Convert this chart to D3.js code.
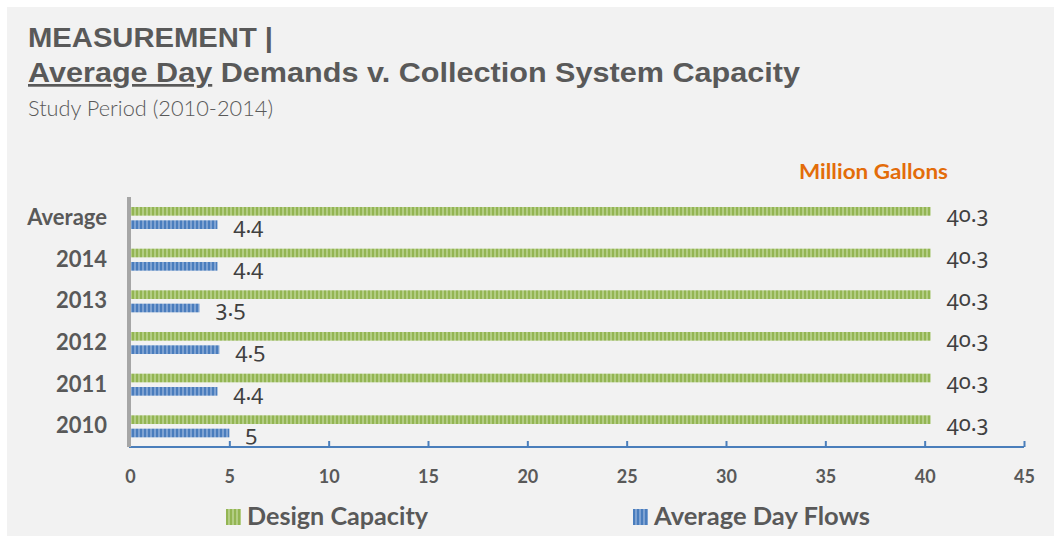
<!DOCTYPE html>
<html>
<head>
<meta charset="utf-8">
<script src="https://cdn.jsdelivr.net/npm/d3@7"></script>
<style>
  html, body { margin: 0; padding: 0; background: #ffffff; }
  svg { display: block; }
  .num { font-family: "Noto Sans", sans-serif; font-feature-settings: "onum" 1; font-variant-numeric: oldstyle-nums; }
</style>
</head>
<body>
<svg id="chart" width="1054" height="536"></svg>
<script>
// Demand vs. capacity, million gallons per day
const categories = ["Average", "2014", "2013", "2012", "2011", "2010"];
const designCapacity = [40.3, 40.3, 40.3, 40.3, 40.3, 40.3];
const averageDayFlows = [4.4, 4.4, 3.5, 4.5, 4.4, 5];
const seriesNames = ["Design Capacity", "Average Day Flows"];
const xTicks = [0, 5, 10, 15, 20, 25, 30, 35, 40, 45];

const W = 1054, H = 536;
const svg = d3.select("#chart");
const textGray = "#595959";

// stripe fills for the two series
const defs = svg.append("defs");
function stripes(id, light, dark) {
  const p = defs.append("pattern")
    .attr("id", id).attr("patternUnits", "userSpaceOnUse")
    .attr("width", 4).attr("height", 4);
  p.append("rect").attr("width", 4).attr("height", 4).attr("fill", light);
  p.append("rect").attr("width", 2).attr("height", 4).attr("fill", dark);
}
stripes("greenStripe", "#b3cd84", "#93b553");
stripes("blueStripe", "#7ea2d2", "#4a7dbd");
const fills = ["url(#greenStripe)", "url(#blueStripe)"];

// panel background
svg.append("rect").attr("x", 7).attr("y", 7)
  .attr("width", W - 7).attr("height", H - 7).attr("fill", "#f2f2f2");

// titles
svg.append("text")
  .attr("x", 28).attr("y", 47)
  .attr("textLength", 245).attr("lengthAdjust", "spacingAndGlyphs")
  .style("font-family", "'Liberation Sans', Arial, sans-serif")
  .style("font-weight", "bold").style("font-size", "27px")
  .attr("fill", textGray)
  .text("MEASUREMENT |");

const t2 = svg.append("text")
  .attr("x", 28).attr("y", 82)
  .attr("textLength", 772).attr("lengthAdjust", "spacingAndGlyphs")
  .style("font-family", "'Liberation Sans', Arial, sans-serif")
  .style("font-weight", "bold").style("font-size", "27px")
  .attr("fill", textGray);
t2.append("tspan").style("text-decoration", "underline").text("Average Day");
t2.append("tspan").text(" Demands v. Collection System Capacity");

svg.append("text")
  .attr("x", 28).attr("y", 116)
  .attr("textLength", 245).attr("lengthAdjust", "spacingAndGlyphs")
  .style("font-family", "Lato, sans-serif")
  .style("font-weight", 300).style("font-size", "21px")
  .attr("fill", textGray)
  .text("Study Period (2010-2014)");

svg.append("text")
  .attr("x", 799).attr("y", 179)
  .attr("textLength", 149).attr("lengthAdjust", "spacingAndGlyphs")
  .style("font-family", "Lato, sans-serif")
  .style("font-weight", "bold").style("font-size", "20px")
  .attr("fill", "#e36c09")
  .text("Million Gallons");

// scales
const x = d3.scaleLinear().domain([0, 45]).range([130, 1024]);
const y = d3.scaleBand().domain(categories).range([197, 447]);
const ySub = d3.scaleBand().domain([0, 1]).range([10, 32]).paddingInner(0.35);
const labelShift = [11, 8.5];

const rows = categories.map((c, i) => ({
  cat: c,
  vals: [designCapacity[i], averageDayFlows[i]]
}));

// bars
const g = svg.append("g");
const rowG = g.selectAll("g.row").data(rows).join("g")
  .attr("class", "row")
  .attr("transform", d => `translate(0,${y(d.cat)})`);

rowG.selectAll("rect.bar").data(d => d.vals.map((v, k) => ({ v, k })))
  .join("rect")
  .attr("class", "bar")
  .attr("x", x(0) + 1)
  .attr("y", d => ySub(d.k))
  .attr("width", d => x(d.v) - x(0) - 1)
  .attr("height", ySub.bandwidth())
  .attr("fill", d => fills[d.k]);

// value labels
rowG.selectAll("text.val").data(d => d.vals.map((v, k) => ({ v, k })))
  .join("text")
  .attr("class", "val num")
  .attr("x", d => x(d.v) + 16)
  .attr("y", d => ySub(d.k) + ySub.bandwidth() / 2 + labelShift[d.k])
  .style("font-size", "22px")
  .attr("fill", "#404040")
  .text(d => d.v);

// x axis
const xAxis = svg.append("g")
  .attr("transform", `translate(0,447)`)
  .call(d3.axisBottom(x).tickValues(xTicks).tickSize(-6).tickSizeOuter(0).tickPadding(23));
xAxis.select(".domain").attr("stroke", "#4a7ebb").attr("stroke-width", 2)
  .attr("d", `M${x(0) - 1},0H${x(45)}`);
xAxis.selectAll(".tick line").attr("stroke", "#4a7ebb").attr("stroke-width", 2);
xAxis.selectAll(".tick").filter(d => d === 0).select("line").remove();
xAxis.selectAll(".tick text")
  .style("font-family", "Lato, sans-serif")
  .style("font-weight", "bold").style("font-size", "18px")
  .attr("fill", textGray);

// category axis
const yAxis = svg.append("g")
  .attr("transform", `translate(129,0)`)
  .call(d3.axisLeft(y).tickSize(0).tickPadding(22));
yAxis.select(".domain").remove();
yAxis.selectAll(".tick text")
  .style("font-family", "Lato, sans-serif")
  .style("font-weight", "bold").style("font-size", "22px")
  .attr("fill", textGray);
svg.append("line")
  .attr("x1", 129).attr("x2", 129).attr("y1", 197).attr("y2", 447)
  .attr("stroke", "#a6a6a6").attr("stroke-width", 4);

// legend
const legendX = [226, 633];
const legendW = [181, 216];
const legend = svg.append("g").selectAll("g").data(seriesNames).join("g")
  .attr("transform", (d, i) => `translate(${legendX[i]},509)`);
legend.append("rect").attr("width", 15).attr("height", 16)
  .attr("fill", (d, i) => fills[i]);
legend.append("text")
  .attr("x", 21).attr("y", 8).attr("dy", "0.35em")
  .attr("textLength", (d, i) => legendW[i]).attr("lengthAdjust", "spacingAndGlyphs")
  .style("font-family", "Lato, sans-serif")
  .style("font-weight", "bold").style("font-size", "24px")
  .attr("fill", textGray)
  .text(d => d);
</script>
</body>
</html>
